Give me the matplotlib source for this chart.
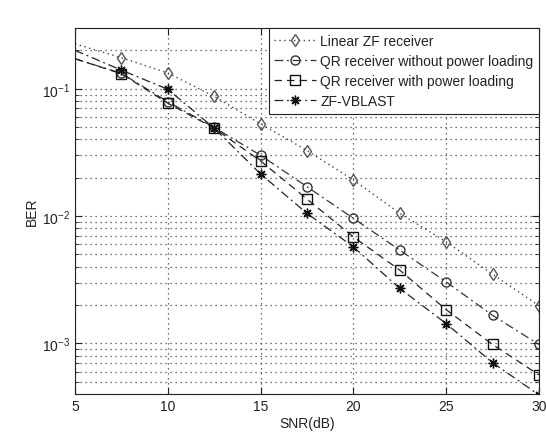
import matplotlib.pyplot as plt
from matplotlib.ticker import LogLocator, NullFormatter

plt.rcParams['font.family'] = ['Liberation Sans', 'DejaVu Sans']

# SNR noktaları (dB)
snr = [5, 7.5, 10, 12.5, 15, 17.5, 20, 22.5, 25, 27.5, 30]

# BER değerleri
ber_zf = [0.225, 0.175, 0.133, 0.087, 0.053, 0.0327, 0.0192, 0.0105, 0.00628, 0.00349, 0.00198]
ber_qr_nopl = [0.172, 0.132, 0.079, 0.0496, 0.030, 0.017, 0.0096, 0.0054, 0.00304, 0.00166, 0.00098]
ber_qr_pl = [0.172, 0.131, 0.077, 0.049, 0.0271, 0.0136, 0.00687, 0.00376, 0.00184, 0.00098, 0.000566]
ber_vblast = [0.20, 0.140, 0.099, 0.049, 0.0214, 0.0105, 0.00573, 0.0027, 0.00143, 0.000705, 0.000394]

labels = ["Linear ZF receiver", "QR receiver without power loading",
          "QR receiver with power loading", "ZF-VBLAST"]

fig = plt.figure(figsize=(5.46, 4.39), dpi=100)
ax = fig.add_axes([0.1374, 0.1002, 0.8496, 0.8338])

marks = list(range(1, len(snr)))
ax.semilogy(snr, ber_zf, color="#444444", linestyle=(0, (1, 2.5)), lw=1.0, marker="d", ms=6.5,
            mfc="none", mec="#555555", markevery=marks, label=labels[0])
ax.semilogy(snr, ber_qr_nopl, color="#333333", linestyle=(0, (7, 3, 1.5, 3)), lw=0.9, marker="o", ms=6.5,
            mfc="none", mec="#333333", markevery=marks, label=labels[1])
ax.semilogy(snr, ber_qr_pl, color="#222222", linestyle=(0, (6, 4)), lw=0.9, marker="s", ms=7,
            mfc="none", mec="#111111", markevery=marks, label=labels[2])
ax.semilogy(snr, ber_vblast, color="#222222", linestyle=(0, (7, 3, 1.5, 3)), lw=0.9, marker=(8, 2, 0), ms=7,
            mec="#111111", markevery=marks, label=labels[3])

ax.set_xlim(5, 30)
ax.set_ylim(4e-4, 0.3)
ax.set_xticks([5, 10, 15, 20, 25, 30])
ax.yaxis.set_major_locator(LogLocator(base=10, numticks=10))
ax.yaxis.set_minor_locator(LogLocator(base=10, subs=range(2, 10), numticks=20))
ax.yaxis.set_minor_formatter(NullFormatter())

grid_style = dict(linestyle=(0, (1, 3)), color="#444444", lw=0.9)
ax.grid(True, which="major", **grid_style)
ax.grid(True, which="minor", axis="y", **grid_style)
ax.tick_params(which="both", direction="in", top=True, right=True, labelsize=10,
               colors="#222222")
ax.tick_params(which="major", length=5)
ax.tick_params(which="minor", length=3)

ax.set_xlabel("SNR(dB)", fontsize=10, labelpad=2, color="#222222")
ax.set_ylabel("BER", fontsize=10, labelpad=2, color="#222222")

for s in ax.spines.values():
    s.set_color("#222222")

leg = ax.legend(loc="upper right", fontsize=10, frameon=True, fancybox=False,
                borderaxespad=0, handlelength=3.0, labelspacing=0.45, borderpad=0.4,
                handletextpad=0.3)
leg.get_frame().set_edgecolor("#222222")
leg.get_frame().set_linewidth(0.8)
leg.get_frame().set_alpha(1)
for t in leg.get_texts():
    t.set_color("#222222")

fig.savefig("out.png", dpi=100)
